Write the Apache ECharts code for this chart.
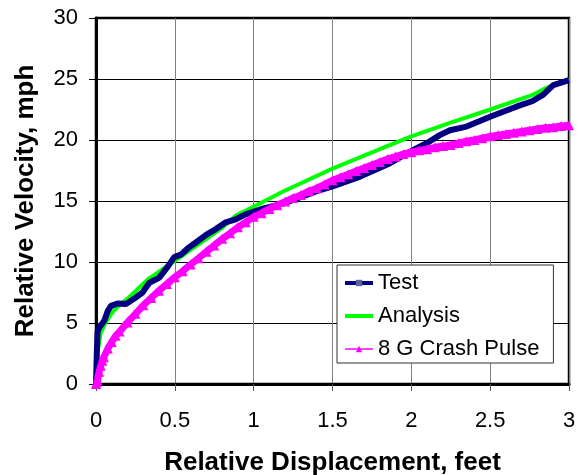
<!DOCTYPE html>
<html>
<head>
<meta charset="utf-8">
<script src="https://cdn.jsdelivr.net/npm/echarts@6/dist/echarts.min.js"></script>
<style>html,body{margin:0;padding:0;background:#fff}#c{width:584px;height:475px}</style>
</head>
<body>
<div id="c"></div>
<script>
var xTicks = ['0','0.5','1','1.5','2','2.5','3'];
var yTicks = ['0','5','10','15','20','25','30'];
var seriesNames = ['Test','Analysis','8 G Crash Pulse'];

var testX = [0,0.005,0.01,0.02,0.053,0.075,0.095,0.137,0.19,0.243,0.295,0.338,0.4,0.454,0.496,0.538,0.59,0.633,0.696,0.76,0.823,0.886,0.949,1.065,1.19,1.4,1.5,1.675,1.865,2.0,2.1,2.18,2.245,2.35,2.5,2.67,2.77,2.835,2.9,3.0];
var testY = [0,2.5,4.3,4.6,5.2,6.0,6.4,6.6,6.55,7.0,7.5,8.3,8.7,9.6,10.4,10.6,11.2,11.6,12.2,12.7,13.25,13.5,13.9,14.4,14.8,15.8,16.2,17.0,18.1,19.1,19.75,20.4,20.8,21.1,21.9,22.75,23.2,23.7,24.5,24.9];

var anaX = [0,0.01,0.03,0.06,0.1,0.15,0.2,0.25,0.33,0.4,0.5,0.6,0.7,0.8,0.886,0.98,1.055,1.19,1.5,1.82,2.0,2.245,2.5,2.77,2.86,3.0];
var anaY = [0,2.6,4.2,5.0,5.8,6.5,7.0,7.6,8.6,9.2,10.1,11.0,11.9,12.8,13.8,14.4,14.9,15.8,17.65,19.35,20.3,21.4,22.5,23.7,24.3,24.95];

var pulseX = [0,0.005,0.01,0.02,0.03,0.04,0.05,0.075,0.1,0.125,0.15,0.2,0.25,0.3,0.35,0.4,0.45,0.5,0.55,0.6,0.65,0.7,0.75,0.8,0.85,0.9,0.95,1.0,1.05,1.1,1.15,1.2,1.25,1.3,1.35,1.4,1.45,1.5,1.55,1.6,1.65,1.7,1.75,1.8,1.85,1.9,1.95,2.0,2.05,2.1,2.15,2.2,2.25,2.3,2.35,2.4,2.45,2.5,2.55,2.6,2.65,2.7,2.75,2.8,2.85,2.9,2.95,3.0];
var pulseY = [0,0.15,0.3,1.0,1.5,1.9,2.2,2.9,3.45,3.95,4.3,5.05,5.75,6.45,7.05,7.65,8.2,8.75,9.25,9.8,10.3,10.85,11.35,11.9,12.35,12.85,13.25,13.7,14.0,14.35,14.65,14.95,15.25,15.5,15.8,16.05,16.35,16.7,16.95,17.2,17.45,17.7,17.95,18.2,18.45,18.65,18.85,19.0,19.15,19.25,19.4,19.5,19.6,19.75,19.9,20.0,20.15,20.3,20.4,20.5,20.6,20.7,20.8,20.9,21.0,21.05,21.15,21.2];

function pairs(xs, ys){ return xs.map(function(x,i){ return [x, ys[i]]; }); }

var FONT = 'Liberation Sans, Arial, sans-serif';
var chart = echarts.init(document.getElementById('c'), null, {renderer:'canvas'});
chart.setOption({
  animation: false,
  backgroundColor: '#fff',
  grid: {left: 96, right: 15, top: 18, bottom: 91, show: true, borderColor: '#000', borderWidth: 2.5,
    containLabel: false, outerBoundsMode: 'none'},
  xAxis: {
    type: 'value', min: 0, max: 3, interval: 0.5,
    name: 'Relative Displacement, feet', nameLocation: 'middle', nameGap: 66,
    nameTextStyle: {fontFamily: FONT, fontSize: 26, fontWeight: 'bold', color: '#000'},
    axisLine: {show: true, lineStyle: {color: '#000', width: 3}},
    axisTick: {show: true, length: 7, lineStyle: {color: '#555', width: 1}},
    axisLabel: {fontFamily: FONT, fontSize: 22, color: '#000', margin: 26,
      formatter: function(v){ var i = Math.round(v/0.5); return xTicks[i]; }},
    splitLine: {show: true, lineStyle: {color: '#808080', width: 1}}
  },
  yAxis: {
    type: 'value', min: 0, max: 30, interval: 5,
    name: 'Relative Velocity, mph', nameLocation: 'middle', nameGap: 57,
    nameTextStyle: {fontFamily: FONT, fontSize: 26, fontWeight: 'bold', color: '#000'},
    axisLine: {show: true, lineStyle: {color: '#000', width: 3}},
    axisTick: {show: true, length: 7, lineStyle: {color: '#000', width: 1}},
    axisLabel: {fontFamily: FONT, fontSize: 22, color: '#000', margin: 18,
      formatter: function(v){ return yTicks[Math.round(v/5)]; }},
    splitLine: {show: true, lineStyle: {color: '#000', width: 1}}
  },
  legend: {
    data: [
      {name: seriesNames[0], lineStyle: {width: 4}, itemStyle: {color: '#5a64a0'}},
      {name: seriesNames[1], lineStyle: {width: 4}, itemStyle: {opacity: 0}},
      {name: seriesNames[2], lineStyle: {width: 1.5}}
    ],
    orient: 'vertical', left: 337, top: 265,
    backgroundColor: '#fff', borderColor: '#333', borderWidth: 1,
    padding: [7, 14, 3, 6], itemGap: 11, itemWidth: 28, itemHeight: 8,
    textStyle: {fontFamily: FONT, fontSize: 22, color: '#000'}
  },
  series: [
    {name: seriesNames[1], type: 'line', data: pairs(anaX, anaY), showSymbol: false, symbol: 'none',
      lineStyle: {color: '#00ff00', width: 4}, itemStyle: {color: '#00ff00'}, z: 2},
    {name: seriesNames[0], type: 'line', data: pairs(testX, testY), showSymbol: false, symbol: 'rect', symbolSize: 5,
      lineStyle: {color: '#000080', width: 6}, itemStyle: {color: '#000080'}, z: 3},
    {name: seriesNames[2], type: 'line', data: pairs(pulseX, pulseY), symbol: 'triangle', symbolSize: 10, showSymbol: true,
      lineStyle: {color: '#ff00ff', width: 7}, itemStyle: {color: '#ff00ff'}, z: 4}
  ]
});
</script>
</body>
</html>
